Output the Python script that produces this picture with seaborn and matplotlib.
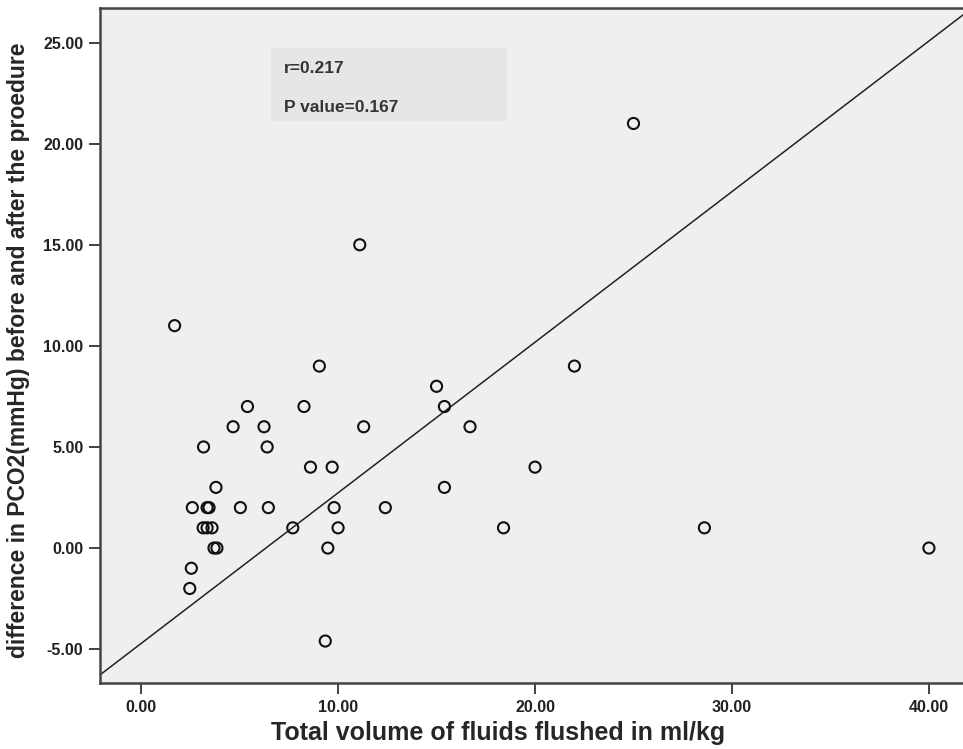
import matplotlib
matplotlib.use("Agg")
import matplotlib.pyplot as plt
import seaborn as sns
import pandas as pd
from matplotlib.patches import Rectangle

# Data
volume_ml_kg = [1.7, 25.0, 11.1, 9.05, 22.0, 15.0, 5.4, 8.27, 15.4, 4.67, 6.24, 11.3, 16.7,
                3.17, 6.4, 8.6, 9.7, 20.0, 3.8, 15.4, 2.6, 3.35, 3.45, 5.04, 6.46, 9.8, 12.4,
                3.15, 3.35, 3.6, 7.7, 10.0, 18.4, 28.6, 3.7, 3.85, 9.48, 40.0, 2.55, 2.47, 9.35]
pco2_diff = [11.0, 21.0, 15.0, 9.0, 9.0, 8.0, 7.0, 7.0, 7.0, 6.0, 6.0, 6.0, 6.0,
             5.0, 5.0, 4.0, 4.0, 4.0, 3.0, 3.0, 2.0, 2.0, 2.0, 2.0, 2.0, 2.0, 2.0,
             1.0, 1.0, 1.0, 1.0, 1.0, 1.0, 1.0, 0.0, 0.0, 0.0, 0.0, -1.0, -2.0, -4.6]
fit_slope = 0.745
fit_intercept = -4.72
x_ticks = [0, 10, 20, 30, 40]
y_ticks = [-5, 0, 5, 10, 15, 20, 25]
stat_lines = ["r=0.217", "P value=0.167"]

df = pd.DataFrame({"volume": volume_ml_kg, "diff": pco2_diff})

sns.set_style("ticks")
plt.rcParams['font.family'] = ['Liberation Sans', 'DejaVu Sans']

fig = plt.figure(figsize=(9.63, 7.49), dpi=100)
ax = fig.add_axes([0.104, 0.088, 0.896, 0.901])
ax.set_facecolor("#EFEFEF")

sns.scatterplot(data=df, x="volume", y="diff", ax=ax, marker="o", s=64,
                facecolor="none", edgecolor="#111111", linewidth=1.5, zorder=3)
ax.axline((0, fit_intercept), slope=fit_slope, color="#222222", lw=1.1, zorder=2)

ax.set_xlim(-2.08, 41.73)
ax.set_ylim(-6.68, 26.7)
ax.set_xticks(x_ticks)
ax.set_yticks(y_ticks)
ax.set_xticklabels([f"{v:.2f}" for v in x_ticks], fontsize=11.5, fontweight="bold", color="#222")
ax.set_yticklabels([f"{v:.2f}" for v in y_ticks], fontsize=11.5, fontweight="bold", color="#222")
ax.tick_params(axis="both", direction="out", length=8, width=1.3, color="#333", pad=4)

for s in ax.spines.values():
    s.set_color("#444444")
    s.set_linewidth(1.8)
ax.spines["right"].set_visible(False)

ax.set_xlabel("Total volume of fluids flushed in ml/kg", fontsize=18, fontweight="bold", va="top")
ax.xaxis.set_label_coords(0.461, -0.056)
ax.set_ylabel("difference in PCO2(mmHg) before and after the proedure", fontsize=16.5,
              fontweight="bold", va="bottom")
ax.yaxis.set_label_coords(-0.081, 0.493)

# stats box
ax.add_patch(Rectangle((0.198, 0.833), 0.273, 0.108, transform=ax.transAxes,
                       facecolor="#E6E6E6", edgecolor="none", zorder=1))
ax.text(0.213, 0.911, stat_lines[0], transform=ax.transAxes, fontsize=12.5,
        fontweight="bold", color="#333", va="center")
ax.text(0.213, 0.853, stat_lines[1], transform=ax.transAxes, fontsize=12.5,
        fontweight="bold", color="#333", va="center")

fig.savefig("out.png", dpi=100, facecolor="white")
